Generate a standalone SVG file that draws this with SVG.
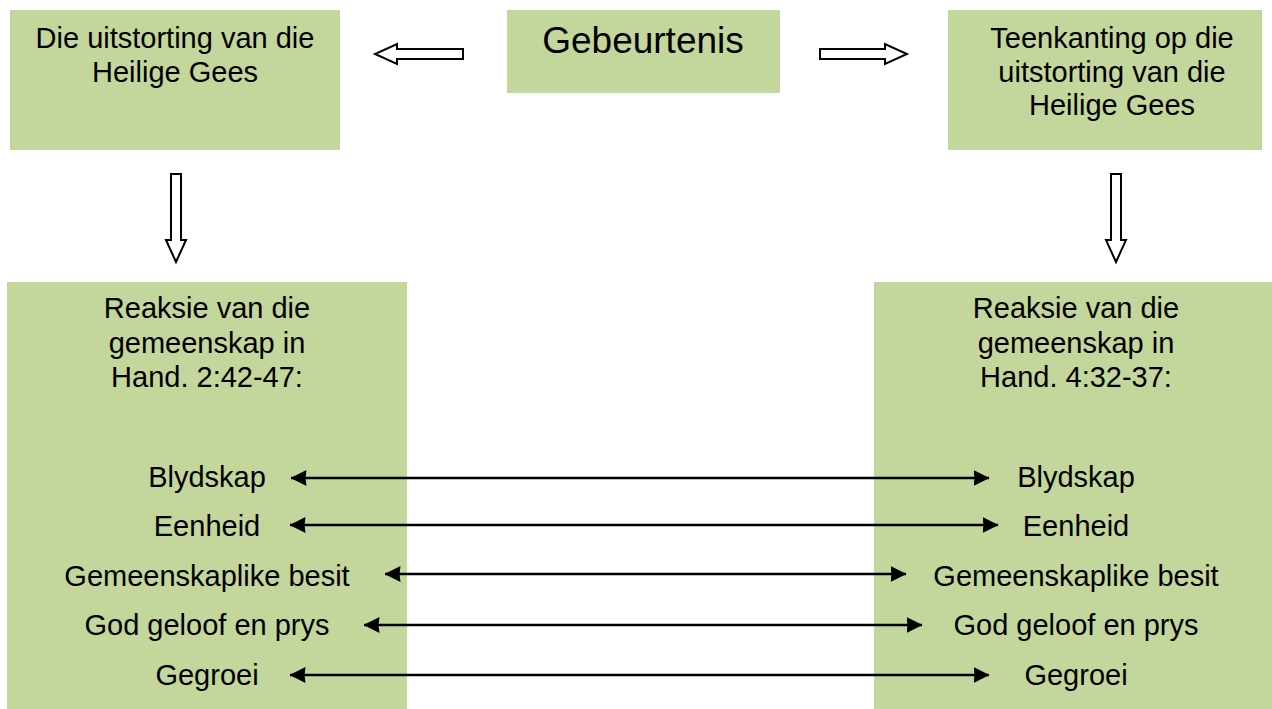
<svg xmlns="http://www.w3.org/2000/svg" width="1272" height="709" viewBox="0 0 1272 709">
<defs>
<style>
.box{fill:#C3D69B;stroke:none}
text{font-family:"Liberation Sans",Arial,sans-serif;font-size:29px;fill:#000;text-anchor:middle}
.big{font-size:37px}
.blk{fill:#fff;stroke:#000;stroke-width:2;stroke-linejoin:miter}
.con{stroke:#000;stroke-width:2.5;fill:none;marker-start:url(#ah);marker-end:url(#ah)}
</style>
<marker id="ah" viewBox="0 0 16 16" refX="15.5" refY="8" markerWidth="16" markerHeight="16" orient="auto-start-reverse" markerUnits="userSpaceOnUse">
<path d="M0,0 L16,8 L0,16 L1,8 Z" fill="#000"/>
</marker>
</defs>
<rect width="1272" height="709" fill="#fff"/>
<g id="n-uitstorting"><rect class="box" x="10" y="10" width="330" height="140"/>
<text x="175" y="48">Die uitstorting van die</text><text x="175" y="82">Heilige Gees</text></g>
<g id="n-gebeurtenis"><rect class="box" x="507" y="10" width="273" height="83"/>
<text class="big" x="643" y="53">Gebeurtenis</text></g>
<g id="n-teenkanting"><rect class="box" x="948" y="10" width="314" height="140"/>
<text x="1112" y="48">Teenkanting op die</text><text x="1112" y="82">uitstorting van die</text><text x="1112" y="115">Heilige Gees</text></g>
<g id="n-reaksie1"><rect class="box" x="7" y="282" width="400" height="427"/>
<text x="207" y="318">Reaksie van die</text><text x="207" y="353">gemeenskap in</text><text x="207" y="387">Hand. 2:42-47:</text>
<text x="207" y="487">Blydskap</text><text x="207" y="536">Eenheid</text><text x="207" y="586">Gemeenskaplike besit</text><text x="207" y="635">God geloof en prys</text><text x="207" y="685">Gegroei</text></g>
<g id="n-reaksie2"><rect class="box" x="874" y="282" width="398" height="427"/>
<text x="1076" y="318">Reaksie van die</text><text x="1076" y="353">gemeenskap in</text><text x="1076" y="387">Hand. 4:32-37:</text>
<text x="1076" y="487">Blydskap</text><text x="1076" y="536">Eenheid</text><text x="1076" y="586">Gemeenskaplike besit</text><text x="1076" y="635">God geloof en prys</text><text x="1076" y="685">Gegroei</text></g>
<g id="connectors">
<path class="blk" d="M463,49 L397,49 L397,44 L375,54 L397,64 L397,59 L463,59 Z"/>
<path class="blk" d="M820,49 L885,49 L885,44 L907,54 L885,64 L885,59 L820,59 Z"/>
<path class="blk" d="M171,174 L171,240 L166,240 L176,262 L186,240 L181,240 L181,174 Z"/>
<path class="blk" d="M1111,174 L1111,240 L1106,240 L1116,262 L1126,240 L1121,240 L1121,174 Z"/>
<line class="con" x1="291" y1="478" x2="989" y2="478"/>
<line class="con" x1="290" y1="525" x2="998" y2="525"/>
<line class="con" x1="385" y1="574" x2="906" y2="574"/>
<line class="con" x1="364" y1="625" x2="922" y2="625"/>
<line class="con" x1="290" y1="675" x2="989" y2="675"/>
</g>
</svg>
